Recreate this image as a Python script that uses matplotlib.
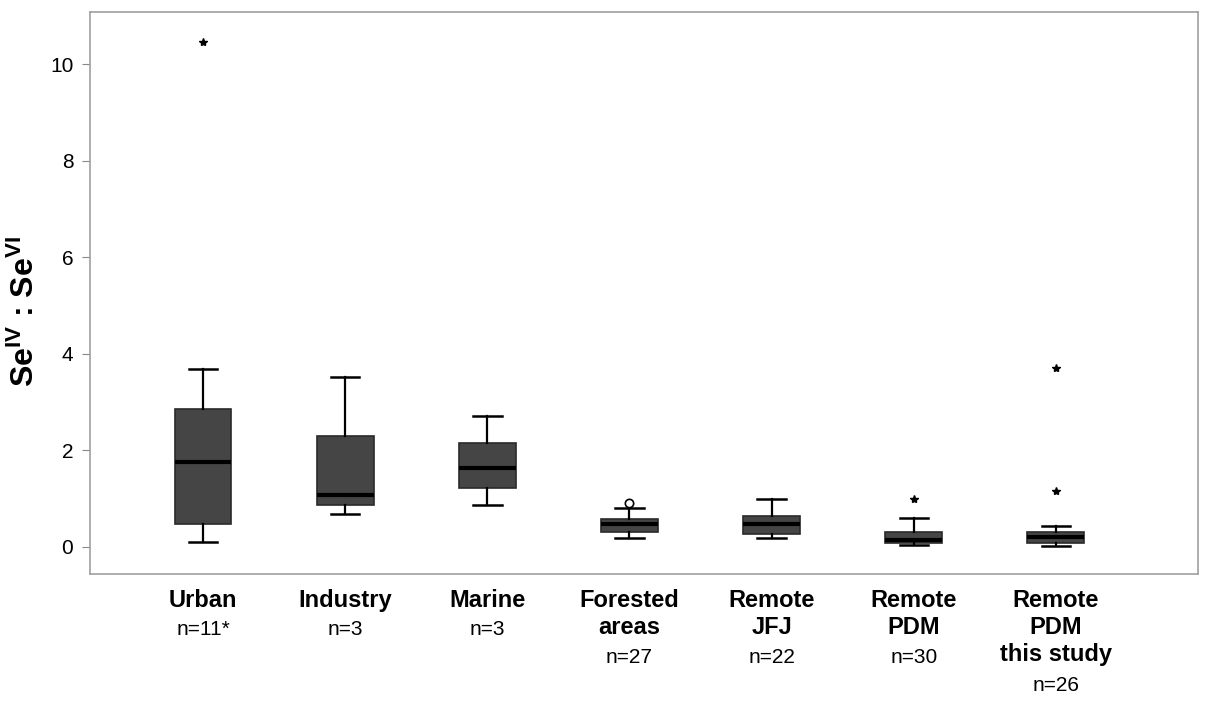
import matplotlib
matplotlib.use("Agg")
import matplotlib.pyplot as plt
import matplotlib.transforms as mtransforms

plt.rcParams['font.family'] = ['Liberation Sans', 'DejaVu Sans']
plt.rcParams['mathtext.fontset'] = 'custom'
plt.rcParams['mathtext.rm'] = 'Liberation Sans:bold'
plt.rcParams['mathtext.bf'] = 'Liberation Sans:bold'
plt.rcParams['mathtext.it'] = 'Liberation Sans:bold'

categories = ["Urban", "Industry", "Marine", "Forested\nareas", "Remote\nJFJ", "Remote\nPDM", "Remote\nPDM\nthis study"]
n_labels = ["n=11*", "n=3", "n=3", "n=27", "n=22", "n=30", "n=26"]
whisker_low = [0.10, 0.68, 0.87, 0.19, 0.19, 0.04, 0.02]
q1 = [0.48, 0.87, 1.22, 0.31, 0.27, 0.08, 0.08]
median = [1.76, 1.08, 1.64, 0.48, 0.48, 0.14, 0.21]
q3 = [2.86, 2.30, 2.15, 0.58, 0.64, 0.31, 0.31]
whisker_high = [3.69, 3.52, 2.71, 0.81, 0.99, 0.60, 0.43]
extremes = [[10.46], [], [], [], [], [0.99], [3.71, 1.16]]   # star markers
mild_outliers = [[], [], [], [0.91], [], [], []]            # open circles

fig = plt.figure(figsize=(12.21, 7.08), dpi=100)
ax = fig.add_axes([90/1221, 1-574/708, (1198-90)/1221, (574-12)/708])

positions = list(range(1, len(categories)+1))
stats = []
for i in range(len(categories)):
    stats.append(dict(whislo=whisker_low[i], q1=q1[i], med=median[i], q3=q3[i],
                      whishi=whisker_high[i], fliers=[]))

ax.bxp(stats, positions=positions, widths=0.40, patch_artist=True, showfliers=False,
       boxprops=dict(facecolor='#454545', edgecolor='#2a2a2a', linewidth=1.2),
       medianprops=dict(color='black', linewidth=3),
       whiskerprops=dict(color='black', linewidth=1.6),
       capprops=dict(color='black', linewidth=1.8),
       capwidths=0.20)

for p, vals in zip(positions, extremes):
    if vals:
        ax.plot([p]*len(vals), vals, linestyle='none', marker='*', color='black',
                markersize=6)
for p, vals in zip(positions, mild_outliers):
    if vals:
        ax.plot([p]*len(vals), vals, linestyle='none', marker='o', markerfacecolor='white',
                markeredgecolor='black', markersize=6, markeredgewidth=1.2)

ax.set_xlim(0.205, 8.0)
ax.set_ylim(-0.56, 11.08)
ax.set_yticks([0, 2, 4, 6, 8, 10])
ax.set_yticklabels(["0", "2", "4", "6", "8", "10"], fontsize=15)
ax.set_xticks([])
ax.tick_params(axis='y', length=6, color='#888888', pad=6)
for s in ax.spines.values():
    s.set_color('#a0a0a0')
    s.set_linewidth(1.2)

fig.text(25/1221, 1 - 312/708, r"Se$^{\mathrm{IV}}$ : Se$^{\mathrm{VI}}$", fontsize=23,
         fontweight='bold', rotation=90, ha='center', va='center')

trans = mtransforms.blended_transform_factory(ax.transData, fig.transFigure)
for p, cat, nl in zip(positions, categories, n_labels):
    nlines = cat.count("\n") + 1
    y_top = 1 - 589/708
    ax.text(p, y_top, cat, transform=trans, ha='center', va='top', fontsize=17,
            fontweight='bold', linespacing=1.23)
    y_n = 1 - (620 + (nlines-1)*28)/708
    ax.text(p, y_n, nl, transform=trans, ha='center', va='top', fontsize=15)

fig.savefig("out.png", dpi=100, facecolor='white')
